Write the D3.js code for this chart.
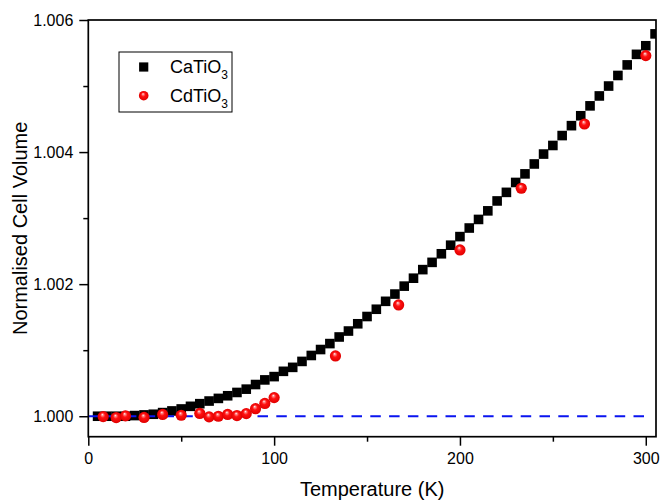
<!DOCTYPE html>
<html>
<head>
<meta charset="utf-8">
<script src="https://cdn.jsdelivr.net/npm/d3@7"></script>
<style>
  html, body { margin: 0; padding: 0; background: #fff; }
  svg { display: block; font-family: "Liberation Sans", Arial, sans-serif; }
</style>
</head>
<body>
<svg id="chart" width="660" height="500"></svg>
<script>
// ---- data ----
const caTemps = [5,10,15,20,25,30,35,40,45,50,55,60,65,70,75,80,85,90,95,100,
  105,110,115,120,125,130,135,140,145,150,155,160,165,170,175,180,185,190,195,200,
  205,210,215,220,225,230,235,240,245,250,255,260,265,270,275,280,285,290,295,300,305];
const caVolume = [1.00000,1.00000,1.00000,1.00000,1.00001,1.00002,1.00003,1.000055,1.00008,1.00011,
  1.00015,1.00019,1.00023,1.00027,1.00031,1.00036,1.00041,1.00048,1.00055,1.00060,
  1.00068,1.00074,1.00083,1.00092,1.00101,1.00110,1.00120,1.00129,1.00140,1.00151,
  1.00162,1.00174,1.00185,1.00197,1.00209,1.00222,1.00233,1.00246,1.00259,1.00272,
  1.00285,1.00298,1.00311,1.00326,1.00339,1.00354,1.00367,1.00382,1.00397,1.00410,
  1.00425,1.00440,1.00455,1.00470,1.00485,1.00500,1.00516,1.00532,1.00548,1.00561,1.00579];
const cdTemps = [8,15,20,30,40,50,60,65,70,75,80,85,90,95,100,133,167,200,233,267,300];
const cdVolume = [0.999994,0.99998,1.000005,0.999982,1.000027,1.000015,1.000042,0.99999,1.00000,1.000027,
  1.00001,1.00004,1.000114,1.000194,1.000282,1.000913,1.001685,1.002518,1.003452,1.004425,1.00546];
const refLineX = [0, 300];
const refLineY = 1.000;
const xMajorTicks = [0, 100, 200, 300];
const xMinorTicks = [50, 150, 250];
const yMajorTicks = [1.000, 1.002, 1.004, 1.006];
const yMinorTicks = [1.001, 1.003, 1.005];
const seriesNames = ["CaTiO", "CdTiO"];
const xTitle = "Temperature (K)";
const yTitle = "Normalised Cell Volume";

// ---- layout ----
const svg = d3.select("#chart");
const L = 88.3, R = 656, T = 20, B = 436.7;
const x = d3.scaleLinear().domain([0, 305.5]).range([L, R]);
const y = d3.scaleLinear().domain([0.99969, 1.006]).range([B, T]);

const defs = svg.append("defs");
defs.append("clipPath").attr("id", "clip")
  .append("rect").attr("x", L).attr("y", T).attr("width", R - L).attr("height", B - T);
const grad = defs.append("radialGradient").attr("id", "ball")
  .attr("cx", "0.5").attr("cy", "0.5").attr("r", "0.5").attr("fx", "0.42").attr("fy", "0.3");
grad.append("stop").attr("offset", "0").attr("stop-color", "#ffffff");
grad.append("stop").attr("offset", "0.18").attr("stop-color", "#ff8080");
grad.append("stop").attr("offset", "0.45").attr("stop-color", "#ff1010");
grad.append("stop").attr("offset", "1").attr("stop-color", "#e00000");

// axes
function styleAxis(g) {
  g.select(".domain").remove();
  g.selectAll(".tick line").attr("stroke", "#000").attr("stroke-width", 1.5);
  g.selectAll(".tick text").attr("fill", "#000").style("font-size", "16px")
    .style("font-family", "'Liberation Sans', Arial, sans-serif");
}
svg.append("g").attr("transform", `translate(0,${B})`)
  .call(d3.axisBottom(x).tickValues(xMajorTicks).tickFormat(d3.format("d")).tickSize(9).tickPadding(7))
  .call(styleAxis);
svg.append("g").attr("transform", `translate(0,${B})`)
  .call(d3.axisBottom(x).tickValues(xMinorTicks).tickFormat("").tickSize(5))
  .call(styleAxis);
svg.append("g").attr("transform", `translate(${L},0)`)
  .call(d3.axisLeft(y).tickValues(yMajorTicks).tickFormat(d3.format(".3f")).tickSize(9).tickPadding(6))
  .call(styleAxis);
svg.append("g").attr("transform", `translate(${L},0)`)
  .call(d3.axisLeft(y).tickValues(yMinorTicks).tickFormat("").tickSize(5))
  .call(styleAxis);

// data
const plot = svg.append("g").attr("clip-path", "url(#clip)");
const sq = 9.6;
plot.selectAll("rect.ca").data(caTemps.map((t, i) => [t, caVolume[i]]))
  .join("rect").attr("class", "ca")
  .attr("x", d => x(d[0]) - sq / 2).attr("y", d => y(d[1]) - sq / 2)
  .attr("width", sq).attr("height", sq).attr("fill", "#000");

plot.append("line")
  .attr("x1", x(refLineX[0])).attr("x2", x(refLineX[1]))
  .attr("y1", y(refLineY)).attr("y2", y(refLineY))
  .attr("stroke", "#0a14f0").attr("stroke-width", 2).attr("stroke-dasharray", "10.5,8.3");

plot.selectAll("circle.cd").data(cdTemps.map((t, i) => [t, cdVolume[i]]))
  .join("circle").attr("class", "cd")
  .attr("cx", d => x(d[0])).attr("cy", d => y(d[1])).attr("r", 5.6)
  .attr("fill", "url(#ball)");

// frame
svg.append("rect").attr("x", L).attr("y", T).attr("width", R - L).attr("height", B - T)
  .attr("fill", "none").attr("stroke", "#000").attr("stroke-width", 1.7);

// titles
svg.append("text").attr("x", (L + R) / 2).attr("y", 496).attr("text-anchor", "middle")
  .style("font-size", "20px").attr("fill", "#000").text(xTitle);
svg.append("text").attr("transform", `translate(26.5,${(T + B) / 2}) rotate(-90)`)
  .attr("text-anchor", "middle").style("font-size", "20px").attr("fill", "#000").text(yTitle);

// legend
const lg = svg.append("g");
lg.append("rect").attr("x", 119).attr("y", 52).attr("width", 113).attr("height", 60)
  .attr("fill", "#fff").attr("stroke", "#000").attr("stroke-width", 1);
lg.append("rect").attr("x", 143.7 - 4.6).attr("y", 67 - 4.6).attr("width", 9.2).attr("height", 9.2).attr("fill", "#000");
lg.append("circle").attr("cx", 143.7).attr("cy", 95.7).attr("r", 4.8).attr("fill", "url(#ball)");
[[seriesNames[0], 73.3], [seriesNames[1], 101.7]].forEach(([name, by]) => {
  const t = lg.append("text").attr("x", 170).attr("y", by).style("font-size", "18px").attr("fill", "#000");
  t.append("tspan").text(name);
  t.append("tspan").attr("dy", 6).style("font-size", "12px").text("3");
});
</script>
</body>
</html>
